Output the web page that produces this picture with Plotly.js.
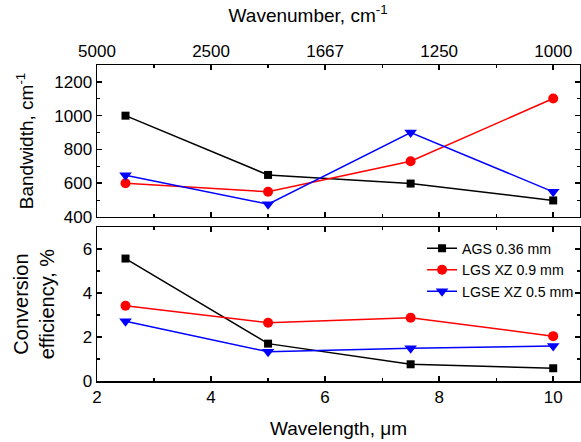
<!DOCTYPE html>
<html>
<head>
<meta charset="utf-8">
<script src="https://cdn.plot.ly/plotly-3.0.1.min.js"></script>
<style>html,body{margin:0;padding:0;background:#fff;}#chart{width:581px;height:442px;}</style>
</head>
<body>
<div id="chart"></div>
<script>
// Data
const wavelength = [2.5, 5, 7.5, 10];
const seriesNames = ["AGS 0.36 mm", "LGS XZ 0.9 mm", "LGSE XZ 0.5 mm"];
const bandwidthAGS = [1000, 649, 598, 498];
const bandwidthLGS = [600, 549, 730, 1102];
const bandwidthLGSE = [647, 476, 900, 549];
const efficiencyAGS = [5.57, 1.70, 0.76, 0.58];
const efficiencyLGS = [3.42, 2.65, 2.88, 2.04];
const efficiencyLGSE = [2.72, 1.33, 1.49, 1.59];
const wavelengthTicks = [2, 4, 6, 8, 10];
const wavenumberLabels = ["5000", "2500", "1667", "1250", "1000"];

const colors = ["#000000", "#ff0000", "#0000ff"];
const symbols = ["square", "circle", "triangle-down"];
const msizes = [8, 10, 11];
const FONT = "Liberation Sans, Arial, sans-serif";

const traces = [];
const bw = [bandwidthAGS, bandwidthLGS, bandwidthLGSE];
const ef = [efficiencyAGS, efficiencyLGS, efficiencyLGSE];
for (let i = 0; i < 3; i++) {
  traces.push({
    x: wavelength, y: bw[i], xaxis: "x2", yaxis: "y2", type: "scatter", mode: "lines+markers",
    name: seriesNames[i], showlegend: false, legendgroup: "g" + i,
    line: {color: colors[i], width: 1.5},
    marker: {color: colors[i], symbol: symbols[i], size: msizes[i]}
  });
}
for (let i = 0; i < 3; i++) {
  traces.push({
    x: wavelength, y: ef[i], xaxis: "x", yaxis: "y", type: "scatter", mode: "lines+markers",
    name: seriesNames[i], showlegend: true, legendgroup: "g" + i,
    line: {color: colors[i], width: 1.5},
    marker: {color: colors[i], symbol: symbols[i], size: msizes[i]}
  });
}

const xr = [2, 10.47];
const axisCommon = {
  showline: true, linecolor: "#000", linewidth: 1.5, mirror: "ticks",
  ticks: "inside", ticklen: 5, tickwidth: 1.5, tickcolor: "#000",
  showgrid: false, zeroline: false,
  tickfont: {family: FONT, size: 17, color: "#000"}
};

const layout = {
  width: 581, height: 442,
  margin: {l: 97, r: 1, t: 65, b: 61},
  paper_bgcolor: "#fff", plot_bgcolor: "#fff",
  font: {family: FONT, color: "#000"},
  title: {text: "Wavenumber, cm<sup>-1</sup>", font: {family: FONT, size: 19, color: "#000"},
          x: 0.437, xref: "paper", xanchor: "center", y: 0.965, yref: "container", yanchor: "middle"},
  xaxis: Object.assign({}, axisCommon, {
    domain: [0, 1], anchor: "y", range: xr, tick0: 2, dtick: 2,
    minor: {ticks: "inside", ticklen: 3, tickwidth: 1.2, tickcolor: "#000", dtick: 1, tick0: 2},
    title: {text: "Wavelength, μm", font: {family: FONT, size: 19, color: "#000"}, standoff: 16}
  }),
  yaxis: Object.assign({}, axisCommon, {
    domain: [0, 0.487], anchor: "x", range: [0, 7], tick0: 0, dtick: 2,
    minor: {ticks: "inside", ticklen: 3, tickwidth: 1.2, tickcolor: "#000", dtick: 1, tick0: 0},
    title: {text: "Conversion<br>efficiency, %", font: {family: FONT, size: 20, color: "#000"}, standoff: 22}
  }),
  xaxis2: Object.assign({}, axisCommon, {
    domain: [0, 1], anchor: "y2", side: "top", range: xr,
    tickmode: "array", tickvals: wavelengthTicks, ticktext: wavenumberLabels,
    minor: {ticks: "inside", ticklen: 3, tickwidth: 1.2, tickcolor: "#000", dtick: 1, tick0: 2}
  }),
  yaxis2: Object.assign({}, axisCommon, {
    domain: [0.519, 1], anchor: "x2", range: [400, 1300], tick0: 400, dtick: 200,
    minor: {ticks: "inside", ticklen: 3, tickwidth: 1.2, tickcolor: "#000", dtick: 100, tick0: 400},
    title: {text: "Bandwidth, cm<sup>-1</sup>", font: {family: FONT, size: 19, color: "#000"}, standoff: 15}
  }),
  legend: {
    x: 0.673, xanchor: "left", y: 0.47, yanchor: "top",
    bgcolor: "rgba(0,0,0,0)", borderwidth: 0,
    font: {family: FONT, size: 14.2, color: "#000"},
    tracegroupgap: 0, itemwidth: 30
  }
};

Plotly.newPlot("chart", traces, layout, {displayModeBar: false, staticPlot: true});
</script>
</body>
</html>
